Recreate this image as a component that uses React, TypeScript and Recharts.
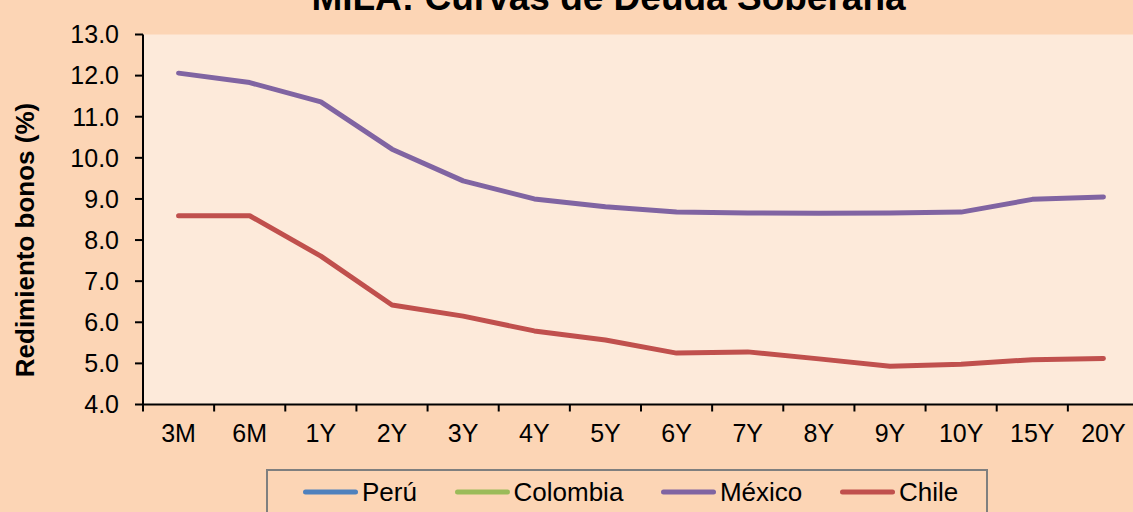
import React from 'react';
import { LineChart, Line, XAxis, YAxis, CartesianGrid, Legend } from 'recharts';

const categories = ['3M', '6M', '1Y', '2Y', '3Y', '4Y', '5Y', '6Y', '7Y', '8Y', '9Y', '10Y', '15Y', '20Y'];
const peru: (number | null)[] = [null, null, null, null, null, null, null, null, null, null, null, null, null, null];
const colombia: (number | null)[] = [null, null, null, null, null, null, null, null, null, null, null, null, null, null];
const mexico = [12.06, 11.83, 11.36, 10.21, 9.44, 9.0, 8.81, 8.68, 8.66, 8.65, 8.66, 8.68, 8.99, 9.05];
const chile = [8.59, 8.59, 7.61, 6.42, 6.15, 5.79, 5.57, 5.25, 5.28, 5.11, 4.93, 4.98, 5.09, 5.12];
const yTicks = [4, 5, 6, 7, 8, 9, 10, 11, 12, 13];
const edgeTicks = [0, 1, 2, 3, 4, 5, 6, 7, 8, 9, 10, 11, 12, 13, 14];

const series = [
  { key: 'peru', name: 'Perú', color: '#4F81BD' },
  { key: 'colombia', name: 'Colombia', color: '#9BBB59' },
  { key: 'mexico', name: 'México', color: '#8064A2' },
  { key: 'chile', name: 'Chile', color: '#C0504D' },
];

const data = categories.map((cat, i) => ({
  cat,
  idx: i,
  peru: peru[i],
  colombia: colombia[i],
  mexico: mexico[i],
  chile: chile[i],
}));

const FONT = '"Liberation Sans", Arial, Helvetica, sans-serif';

const EmptyTick = () => <g />;

const renderLegend = () => (
  <div
    style={{
      boxSizing: 'border-box',
      width: 722,
      height: 60,
      border: '2px solid #7F7F7F',
      paddingLeft: 35,
      paddingTop: 5.5,
      display: 'flex',
      alignItems: 'flex-start',
      fontFamily: FONT,
      fontSize: 26,
      lineHeight: '30px',
      color: '#000',
    }}
  >
    {series.map((s) => (
      <div key={s.key} style={{ display: 'flex', alignItems: 'center', marginRight: 37.6, height: 30 }}>
        <svg width={55} height={10} style={{ display: 'block' }}>
          <line x1={2.5} y1={5} x2={52.5} y2={5} stroke={s.color} strokeWidth={5} strokeLinecap="round" />
        </svg>
        <span style={{ marginLeft: 4, whiteSpace: 'nowrap' }}>{s.name}</span>
      </div>
    ))}
  </div>
);

export default function App() {
  return (
    <div
      style={{
        position: 'absolute',
        left: 0,
        top: 0,
        width: 1133,
        height: 512,
        overflow: 'hidden',
        background: '#FCD5B5',
        fontFamily: FONT,
      }}
    >
      <LineChart
        width={1140}
        height={512}
        data={data}
        margin={{ top: 34.5, right: 1, left: 0, bottom: 66.5 }}
      >
        <CartesianGrid xAxisId="b1" fill="#FDEADA" stroke="none" horizontal={false} vertical={false} />
        <XAxis
          xAxisId="a0"
          dataKey="idx"
          type="number"
          domain={[0, 14]}
          allowDataOverflow
          ticks={edgeTicks}
          interval={0}
          height={1}
          tick={EmptyTick}
          tickSize={7}
          tickLine={{ stroke: '#000', strokeWidth: 2 }}
          axisLine={{ stroke: '#000', strokeWidth: 2 }}
        />
        <XAxis
          xAxisId="b1"
          dataKey="cat"
          type="category"
          scale="band"
          interval={0}
          height={40}
          axisLine={false}
          tickLine={false}
          tickSize={0}
          tickMargin={18.5}
          tick={{ fill: '#000', fontSize: 25, fontFamily: FONT }}
        />
        <YAxis
          width={143}
          domain={[4, 13]}
          ticks={yTicks}
          interval={0}
          allowDataOverflow
          tickFormatter={(v: number) => v.toFixed(1)}
          tickSize={8}
          tickMargin={16}
          tick={{ fill: '#000', fontSize: 25, fontFamily: FONT }}
          tickLine={{ stroke: '#000', strokeWidth: 2 }}
          axisLine={{ stroke: '#000', strokeWidth: 2 }}
        />
        <Legend
          layout="horizontal"
          verticalAlign="middle"
          align="center"
          content={renderLegend}
          wrapperStyle={{ left: 266, top: 469, width: 722, height: 60 }}
        />
        {series.map((s) => (
          <Line
            key={s.key}
            xAxisId="b1"
            type="linear"
            dataKey={s.key}
            name={s.name}
            stroke={s.color}
            strokeWidth={5}
            strokeLinecap="round"
            strokeLinejoin="round"
            dot={false}
            activeDot={false}
            isAnimationActive={false}
          />
        ))}
      </LineChart>
      <svg
        width={1133}
        height={512}
        style={{ position: 'absolute', left: 0, top: 0, pointerEvents: 'none' }}
      >
        <text x={608.5} y={10} textAnchor="middle" fontFamily={FONT} fontSize={37} fontWeight="bold" fill="#000">
          MILA: Curvas de Deuda Soberana
        </text>
        <text
          x={34}
          y={240}
          textAnchor="middle"
          fontFamily={FONT}
          fontSize={26}
          fontWeight="bold"
          fill="#000"
          transform="rotate(-90 34 240)"
        >
          Redimiento bonos (%)
        </text>
      </svg>
    </div>
  );
}
